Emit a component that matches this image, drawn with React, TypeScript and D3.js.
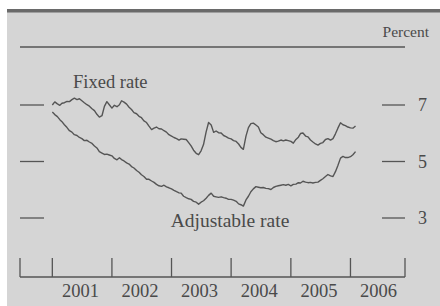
import React from 'react';
import * as d3 from 'd3';

// Semi-monthly readings (1st and 16th of each month), percent
const fixed2001 = [7.00, 7.11, 7.04, 6.99, 7.06, 7.08, 7.13, 7.12, 7.19, 7.24, 7.19, 7.22, 7.15, 7.08, 7.01, 6.96, 6.87, 6.80, 6.67, 6.57, 6.62, 6.95, 7.12, 7.01];
const fixed2002 = [6.89, 6.99, 6.94, 7.01, 7.15, 7.10, 7.03, 6.92, 6.84, 6.73, 6.69, 6.60, 6.55, 6.44, 6.38, 6.25, 6.13, 6.18, 6.22, 6.16, 6.15, 6.09, 6.04, 5.95];
const fixed2003 = [5.90, 5.85, 5.81, 5.76, 5.80, 5.79, 5.78, 5.67, 5.55, 5.40, 5.29, 5.24, 5.38, 5.60, 6.05, 6.38, 6.29, 6.03, 6.08, 6.02, 6.01, 5.92, 5.88, 5.83];
const fixed2004 = [5.80, 5.74, 5.71, 5.62, 5.50, 5.43, 5.90, 6.20, 6.34, 6.36, 6.29, 6.22, 6.02, 5.95, 5.86, 5.83, 5.79, 5.74, 5.70, 5.72, 5.76, 5.73, 5.76, 5.74];
const fixed2005 = [5.71, 5.65, 5.78, 5.86, 5.99, 6.01, 5.90, 5.87, 5.76, 5.69, 5.62, 5.58, 5.64, 5.67, 5.78, 5.81, 5.76, 5.81, 5.98, 6.18, 6.37, 6.30, 6.27, 6.22];
const fixed2006 = [6.19, 6.18, 6.26];

const adj2001 = [6.75, 6.66, 6.59, 6.48, 6.41, 6.30, 6.20, 6.09, 6.04, 5.95, 5.92, 5.85, 5.81, 5.74, 5.75, 5.69, 5.64, 5.55, 5.48, 5.35, 5.30, 5.25, 5.26, 5.23];
const adj2002 = [5.20, 5.11, 5.06, 5.13, 5.07, 5.02, 4.95, 4.91, 4.82, 4.77, 4.68, 4.62, 4.53, 4.47, 4.37, 4.37, 4.31, 4.26, 4.19, 4.14, 4.12, 4.16, 4.10, 4.07];
const adj2003 = [4.03, 3.98, 3.93, 3.89, 3.88, 3.77, 3.72, 3.68, 3.66, 3.59, 3.56, 3.49, 3.56, 3.61, 3.70, 3.80, 3.88, 3.77, 3.75, 3.73, 3.75, 3.72, 3.70, 3.66];
const adj2004 = [3.66, 3.63, 3.59, 3.50, 3.47, 3.42, 3.64, 3.77, 3.93, 4.03, 4.11, 4.09, 4.07, 4.08, 4.05, 4.04, 4.01, 4.08, 4.12, 4.14, 4.16, 4.18, 4.16, 4.19];
const adj2005 = [4.14, 4.19, 4.20, 4.25, 4.24, 4.30, 4.27, 4.25, 4.26, 4.24, 4.26, 4.27, 4.33, 4.39, 4.47, 4.54, 4.49, 4.47, 4.64, 4.86, 5.12, 5.18, 5.14, 5.14];
const adj2006 = [5.17, 5.24, 5.35];

const years = [2001, 2002, 2003, 2004, 2005, 2006];
const yTicks = [3, 5, 7];

const fixedRate = [...fixed2001, ...fixed2002, ...fixed2003, ...fixed2004, ...fixed2005, ...fixed2006];
const adjustableRate = [...adj2001, ...adj2002, ...adj2003, ...adj2004, ...adj2005, ...adj2006];

// index -> 1st or 16th of month, starting Jan 2001
const periodDate = (i: number) => new Date(2001, Math.floor(i / 2), i % 2 === 0 ? 1 : 16);

const INK = '#4a4a4a';
const FONT = '"Liberation Serif", "Times New Roman", serif';

export default function App() {
  const width = 440;
  const height = 306;

  const x = d3.scaleTime()
    .domain([new Date(2000, 5, 17), new Date(2006, 11, 1)])
    .range([20, 405]);

  const y = d3.scaleLinear()
    .domain([3, 7])
    .range([218, 105]);

  const line = d3.line<number>()
    .x((_, i) => x(periodDate(i)))
    .y(d => y(d))
    .curve(d3.curveLinear);

  const axisY = 277;
  const tickTop = 258;
  const tickDates = [x.domain()[0], ...years.map(yr => new Date(yr, 0, 1)), x.domain()[1]];

  return (
    <svg
      width={width}
      height={height}
      style={{ position: 'absolute', left: 0, top: 0, background: '#fff' }}
      fontFamily={FONT}
    >
      <rect x={7} y={9} width={433} height={297} fill="#d5d5d5" />
      <rect x={7} y={9} width={433} height={3.5} fill="#6a6a6a" />

      <text x={429} y={37} fontSize={15.5} fill={INK} textAnchor="end">Percent</text>
      <line x1={20} x2={405} y1={47} y2={47} stroke="#555" strokeWidth={1.3} />

      {yTicks.map(t => (
        <g key={t}>
          <line x1={20} x2={44} y1={y(t)} y2={y(t)} stroke="#555" strokeWidth={1.3} />
          <line x1={382} x2={405} y1={y(t)} y2={y(t)} stroke="#555" strokeWidth={1.3} />
          <text x={418} y={y(t)} dy="0.35em" fontSize={18} fill={INK}>{t}</text>
        </g>
      ))}

      <path d={line(fixedRate) || ''} fill="none" stroke="#555" strokeWidth={1.4} strokeLinejoin="round" />
      <path d={line(adjustableRate) || ''} fill="none" stroke="#555" strokeWidth={1.4} strokeLinejoin="round" />

      <text x={73} y={88} fontSize={18.5} fill={INK}>Fixed rate</text>
      <text x={230} y={227} fontSize={19.5} fill={INK} textAnchor="middle">Adjustable rate</text>

      <line x1={20} x2={405} y1={axisY} y2={axisY} stroke="#555" strokeWidth={1.3} />
      {tickDates.map((d, i) => (
        <line key={i} x1={x(d)} x2={x(d)} y1={tickTop} y2={axisY} stroke="#555" strokeWidth={1.3} />
      ))}
      {years.map(yr => (
        <text
          key={yr}
          x={x(new Date(yr, 6, 1)) - 1.5}
          y={297}
          fontSize={18.5}
          fill={INK}
          textAnchor="middle"
        >
          {yr}
        </text>
      ))}
    </svg>
  );
}
